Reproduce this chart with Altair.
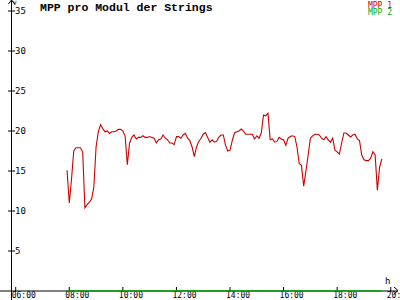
import altair as alt
import pandas as pd

# ---- data ----
start_minute = 7 * 60 + 55      # first sample 07:55
step_minutes = 5                # sampling interval
mpp1 = [15.1, 11.0, 14.0, 17.5, 17.9, 17.9, 17.9, 17.4, 10.4, 10.8,
        11.1, 11.5, 13.0, 18.0, 19.9, 20.8, 20.3, 19.9, 20.0, 19.7,
        19.9, 19.9, 20.0, 20.2, 20.2, 20.0, 19.4, 15.8, 18.5, 19.2,
        19.5, 19.0, 19.2, 19.2, 19.4, 19.2, 19.2, 19.3, 19.2, 19.1,
        18.5, 18.9, 19.0, 19.5, 19.1, 18.9, 18.5, 18.5, 18.3, 19.3,
        19.3, 19.1, 19.5, 19.7, 19.1, 18.8, 18.0, 16.8, 18.0, 18.7,
        19.1, 19.6, 19.8, 19.2, 18.6, 18.9, 18.6, 18.7, 19.25, 19.5,
        19.5, 18.2, 17.5, 17.6, 18.8, 19.75, 19.9, 20.0, 20.25, 20.0,
        19.6, 19.6, 19.6, 19.6, 19.0, 19.4, 19.1, 19.75, 22.0, 21.9,
        22.2, 18.9, 19.0, 18.6, 18.7, 19.2, 19.0, 18.9, 18.2, 19.1,
        19.3, 19.4, 19.3, 18.0, 15.9, 15.7, 13.1, 15.0, 17.0, 19.1,
        19.4, 19.6, 19.6, 19.5, 19.1, 18.9, 19.3, 18.9, 18.6, 19.1,
        17.6, 17.4, 17.1, 18.5, 19.75, 19.75, 19.5, 19.25, 19.5, 19.6,
        19.0, 18.8, 17.0, 16.4, 16.3, 16.3, 16.6, 17.4, 17.0, 12.6,
        15.5, 16.5]
mpp2 = [0.0] * len(mpp1)

y_ticks = [5, 10, 15, 20, 25, 30, 35]
x_ticks = [6, 8, 10, 12, 14, 16, 18, 20]
x_labels = ["06:00", "08:00", "10:00", "12:00", "14:00", "16:00", "18:00", "20:00"]
title_text = "MPP pro Modul der Strings"
series_names = ["MPP 1", "MPP 2"]
series_colors = ["#c80000", "#00a800"]

# ---- geometry ----
W, H = 387, 291
X_DOMAIN = [5.8246, 20.27]
Y_DOMAIN = [0, 36.375]
FONT = "DejaVu Sans Mono"

hours = [(start_minute + step_minutes * i) / 60 for i in range(len(mpp1))]
df1 = pd.DataFrame({"h": hours, "v": mpp1})
df2 = pd.DataFrame({"h": hours, "v": mpp2})


def xe(field="h"):
    return alt.X(f"{field}:Q", scale=alt.Scale(domain=X_DOMAIN, nice=False, zero=False), axis=None)


def ye(field="v"):
    return alt.Y(f"{field}:Q", scale=alt.Scale(domain=Y_DOMAIN, nice=False, zero=False), axis=None)


base_dummy = pd.DataFrame({"h": [0]})

# axes lines
y_axis = alt.Chart(base_dummy).mark_rule(color="black", strokeWidth=1).encode(
    x=alt.value(0.5), y=alt.value(0), y2=alt.value(300))
x_axis = alt.Chart(pd.DataFrame({"v": [0]})).mark_rule(color="black", strokeWidth=1).encode(
    y=ye(), x=alt.value(-11), x2=alt.value(387))

arrow_up1 = alt.Chart(base_dummy).mark_rule(color="black").encode(
    x=alt.value(0.5), x2=alt.value(-2.5), y=alt.value(0), y2=alt.value(4))
arrow_up2 = alt.Chart(base_dummy).mark_rule(color="black").encode(
    x=alt.value(0.5), x2=alt.value(3.5), y=alt.value(0), y2=alt.value(4))
arrow_r1 = alt.Chart(base_dummy).mark_rule(color="black").encode(
    x=alt.value(387), x2=alt.value(383), y=alt.value(290.5), y2=alt.value(287))
arrow_r2 = alt.Chart(base_dummy).mark_rule(color="black").encode(
    x=alt.value(387), x2=alt.value(383), y=alt.value(290.5), y2=alt.value(294))

ydf = pd.DataFrame({"v": y_ticks, "lab": [str(t) for t in y_ticks]})
y_tick_marks = alt.Chart(ydf).mark_rule(color="black").encode(
    y=ye(), x=alt.value(-3), x2=alt.value(4))
y_tick_labels = alt.Chart(ydf).mark_text(
    align="left", baseline="middle", font=FONT, fontSize=9, color="black", dx=0
).encode(y=ye(), x=alt.value(4), text="lab:N")

xdf = pd.DataFrame({"h": x_ticks, "lab": x_labels})
x_tick_marks = alt.Chart(xdf).mark_rule(color="black").encode(
    x=xe(), y=alt.value(287), y2=alt.value(292))
x_tick_labels = alt.Chart(xdf).mark_text(
    align="left", baseline="alphabetic", font=FONT, fontSize=8, color="black", dx=-4
).encode(x=xe(), y=alt.value(298), text="lab:N")

h_label = alt.Chart(base_dummy).mark_text(
    text="h", align="left", baseline="alphabetic", font=FONT, fontSize=9, color="black"
).encode(x=alt.value(374), y=alt.value(284))
v_label = alt.Chart(base_dummy).mark_text(
    text="V", align="left", baseline="alphabetic", font=FONT, fontSize=6, color="black"
).encode(x=alt.value(2), y=alt.value(5))

title = alt.Chart(base_dummy).mark_text(
    text=title_text, align="left", baseline="alphabetic", font="Liberation Mono",
    fontWeight="bold", fontSize=11.5, color="black"
).encode(x=alt.value(29), y=alt.value(11))

leg_df = pd.DataFrame({"name": series_names, "col": series_colors, "row": [7.5, 15]})
legend = alt.Chart(leg_df).mark_text(
    align="right", baseline="alphabetic", font=FONT, fontSize=8
).encode(
    x=alt.value(381), y=alt.Y("row:Q", scale=None, axis=None), text="name:N",
    color=alt.Color("col:N", scale=None, legend=None))

line2 = alt.Chart(df2).mark_line(color=series_colors[1], strokeWidth=1.5).encode(x=xe(), y=ye())
line1 = alt.Chart(df1).mark_line(color=series_colors[0], strokeWidth=1.1).encode(x=xe(), y=ye())

chart = alt.layer(
    y_axis, x_axis, arrow_up1, arrow_up2, arrow_r1, arrow_r2,
    y_tick_marks, y_tick_labels, x_tick_marks, x_tick_labels,
    h_label, v_label, title, legend, line2, line1
).properties(
    width=W, height=H,
    autosize=alt.AutoSizeParams(type="none"),
    padding={"left": 11, "top": 0, "right": 2, "bottom": 9},
    background="white",
).configure_view(stroke=None)

chart.save("out.html", embed_options={"renderer": "svg", "actions": False})
